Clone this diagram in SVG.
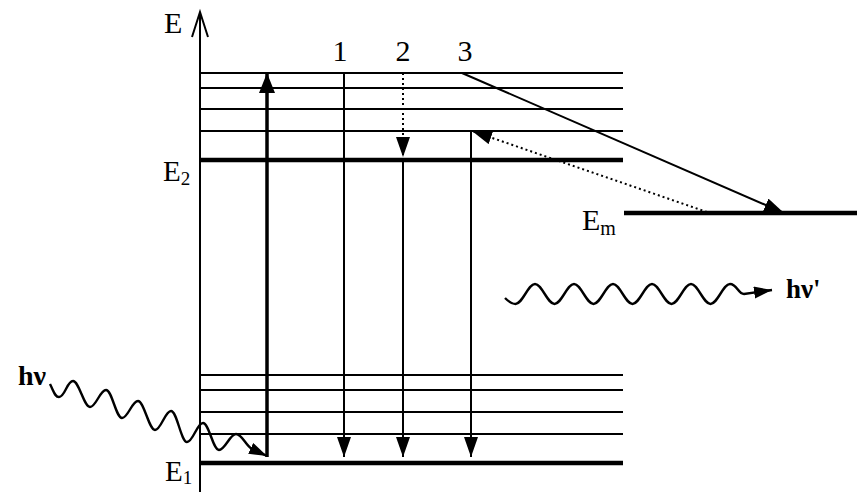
<svg xmlns="http://www.w3.org/2000/svg" width="857" height="492" viewBox="0 0 857 492">
<style>
.lvl{stroke:#000;stroke-width:2;fill:none}
.thick{stroke:#000;stroke-width:4.5;fill:none}
.ln{stroke:#000;stroke-width:2;fill:none}
.dot{stroke:#000;stroke-width:2;stroke-dasharray:2 3;fill:none}
.wave{stroke:#000;stroke-width:2.4;fill:none}
.t{font-family:"Liberation Serif","Times New Roman",serif;fill:#000}
.b{font-family:"Liberation Serif","Times New Roman",serif;font-weight:bold;fill:#000}
</style>
<defs>
<marker id="ah" markerUnits="userSpaceOnUse" markerWidth="22" markerHeight="16" refX="20" refY="7" orient="auto">
<path d="M0,0 L20,7 L0,14 z" fill="#000"/>
</marker>
<marker id="ahb" markerUnits="userSpaceOnUse" markerWidth="22" markerHeight="18" refX="20" refY="8" orient="auto">
<path d="M0,0 L20,8 L0,16 z" fill="#000"/>
</marker>
<marker id="ahw" markerUnits="userSpaceOnUse" markerWidth="20" markerHeight="14" refX="18" refY="6" orient="auto">
<path d="M0,0 L18,6 L0,12 z" fill="#000"/>
</marker>
</defs>
<rect width="857" height="492" fill="#fff"/>

<g id="axis">
<line x1="200" y1="12" x2="200" y2="492" class="ln"/>
<path d="M192,37 L200,12 L208,37" class="ln"/>
<text x="164" y="33" class="t" font-size="30">E</text>
</g>

<g id="upper-band">
<line x1="200" y1="73" x2="623" y2="73" class="lvl"/>
<line x1="200" y1="88" x2="623" y2="88" class="lvl"/>
<line x1="200" y1="109" x2="623" y2="109" class="lvl"/>
<line x1="200" y1="131" x2="623" y2="131" class="lvl"/>
</g>
<g id="E2">
<line x1="200" y1="160" x2="623" y2="160" class="thick"/>
<text x="163" y="181" class="t" font-size="29">E<tspan font-size="19" dy="4">2</tspan></text>
</g>
<g id="Em">
<line x1="624" y1="213" x2="857" y2="213" class="thick"/>
<text x="582" y="230" class="t" font-size="30">E<tspan font-size="20" dy="5">m</tspan></text>
</g>
<g id="lower-band">
<line x1="200" y1="375" x2="623" y2="375" class="lvl"/>
<line x1="200" y1="390" x2="623" y2="390" class="lvl"/>
<line x1="200" y1="412" x2="623" y2="412" class="lvl"/>
<line x1="200" y1="434" x2="623" y2="434" class="lvl"/>
</g>
<g id="E1">
<line x1="200" y1="463" x2="623" y2="463" class="thick"/>
<text x="165" y="481" class="t" font-size="29">E<tspan font-size="19" dy="3">1</tspan></text>
</g>

<g id="labels">
<text x="340" y="61" class="t" font-size="30" text-anchor="middle">1</text>
<text x="403" y="61" class="t" font-size="30" text-anchor="middle">2</text>
<text x="465" y="61" class="t" font-size="30" text-anchor="middle">3</text>
<text x="18" y="385" class="b" font-size="28">hν</text>
<text x="786" y="298" class="b" font-size="27">hν'</text>
</g>

<g id="connectors">
<line x1="267" y1="457" x2="267" y2="73" stroke="#000" stroke-width="3.5" marker-end="url(#ahb)"/>
<line x1="344" y1="73" x2="344" y2="457" class="ln" marker-end="url(#ah)"/>
<line x1="403" y1="73" x2="403" y2="157" class="dot" marker-end="url(#ah)"/>
<line x1="403" y1="160" x2="403" y2="457" class="ln" marker-end="url(#ah)"/>
<line x1="471" y1="131" x2="471" y2="457" class="ln" marker-end="url(#ah)"/>
<line x1="462" y1="73" x2="784" y2="213" class="ln" marker-end="url(#ah)"/>
<line x1="707" y1="212" x2="472" y2="131" class="dot" marker-end="url(#ah)"/>
<path class="wave" marker-end="url(#ahw)" d="M50,384 C54,392 55,397 59,397 C65,397 67,381 73,381 S84,407 90,407 S100,390 106,390 S116,418 122,418 S132,401 138,401 S149,430 155,430 S165,411 171,411 S181,442 187,442 S197,423 203,423 S213,450 219,450 S230,434 236,434 S246,446 252,449 L267,456"/>
<path class="wave" marker-end="url(#ahw)" d="M505,298 C509,302 512,304 515.5,304 C522.5,304 528,284 535,284 S547.5,304 554.5,304 S567,284 574,284 S586.5,304 593.5,304 S606,284 613,284 S625.5,304 632.5,304 S645,284 652,284 S664.5,304 671.5,304 S684,284 691,284 S703.5,304 710.5,304 S723,284 730,284 S738,294 744,294 L772,290"/>
</g>
</svg>
